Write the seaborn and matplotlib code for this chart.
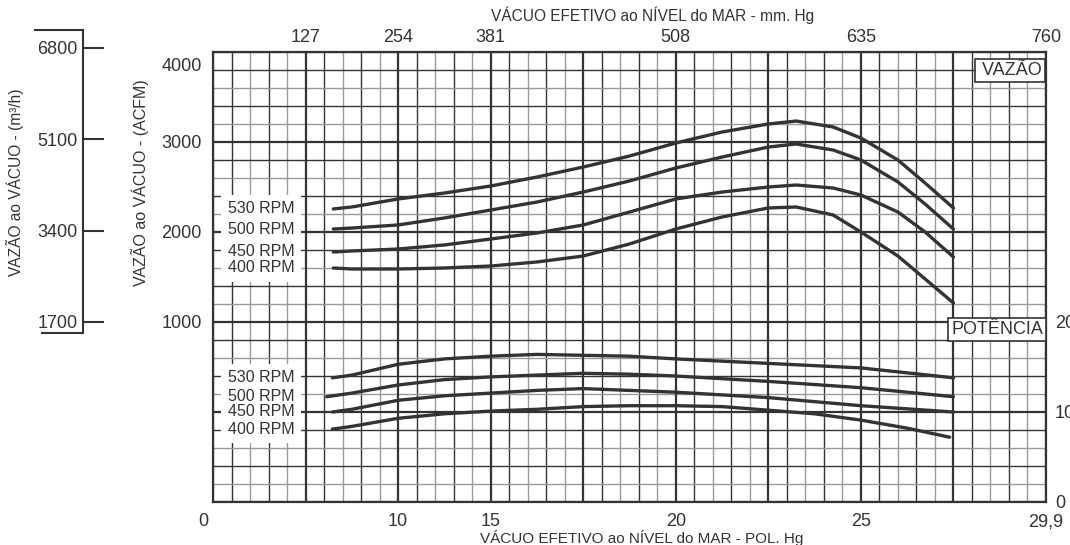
import numpy as np
import pandas as pd
import seaborn as sns
import matplotlib.pyplot as plt
from matplotlib.transforms import ScaledTranslation

# Printed vacuum scale of the chart (not linear): in Hg value -> grid station
scale_inhg = [0, 5, 10, 15, 20, 25, 29.9]
scale_pos = [0, 1, 2, 3, 5, 7, 9]

bottom_ticks = [0, 10, 15, 20, 25, 29.9]
bottom_labels = ["0", "10", "15", "20", "25", "29,9"]
top_ticks = [5, 10, 15, 20, 25, 29.9]
top_labels = ["127", "254", "381", "508", "635", "760"]

flow_ticks = [1000, 2000, 3000, 4000]
m3h_ticks = [1700, 3400, 5100, 6800]
power_ticks = [0, 10, 20]

rpms = ["530 RPM", "500 RPM", "450 RPM", "400 RPM"]

# Flow (ACFM) against vacuum (in Hg)
flow_x = [6.5, 7.5, 10, 12.5, 15, 16.25, 17.5, 18.75, 20, 21.25, 22.5,
          23.25, 24.25, 25, 25.98, 26.7, 27.45]
flow_530 = [2256, 2278, 2367, 2433, 2511, 2611, 2722, 2844, 2989, 3111, 3200,
            3233, 3167, 3044, 2800, 2544, 2267]
flow_500 = [2033, 2044, 2078, 2156, 2244, 2333, 2444, 2567, 2711, 2833, 2944,
            2978, 2911, 2800, 2556, 2311, 2033]
flow_450 = [1778, 1789, 1811, 1856, 1922, 1989, 2078, 2222, 2367, 2444, 2500,
            2522, 2489, 2411, 2222, 2000, 1722]
flow_400 = [1600, 1589, 1589, 1600, 1622, 1667, 1733, 1867, 2033, 2167, 2267,
            2278, 2189, 2000, 1733, 1478, 1211]

# Power against vacuum (in Hg)
power_x = [6.45, 7.5, 10, 12.5, 15, 16.25, 17.5, 18.75, 20, 22.5, 25, 27.45]
power_x_500 = [6.15] + power_x[1:]
power_530 = [13.8, 14.1, 15.3, 15.9, 16.2, 16.4, 16.3, 16.2, 15.9, 15.4, 14.9, 13.8]
power_500 = [11.7, 12.1, 13.0, 13.6, 13.9, 14.1, 14.3, 14.2, 14.0, 13.4, 12.7, 11.7]
power_450 = [10.0, 10.3, 11.3, 11.8, 12.1, 12.4, 12.6, 12.4, 12.2, 11.6, 10.7, 10.0]
power_x_400 = [6.45, 7.5, 10, 12.5, 15, 16.25, 17.5, 18.75, 20, 21.25, 22.5,
               23.75, 25, 26.23, 27.35]
power_400 = [8.1, 8.4, 9.3, 9.8, 10.1, 10.3, 10.6, 10.7, 10.7, 10.6, 10.2,
             9.8, 9.1, 8.2, 7.2]

flow = pd.concat([
    pd.DataFrame({"vacuo": flow_x, "vazao": f, "rpm": r})
    for f, r in zip([flow_530, flow_500, flow_450, flow_400], rpms)])
power = pd.concat([
    pd.DataFrame({"vacuo": x, "potencia": p, "rpm": r})
    for x, p, r in zip([power_x, power_x_500, power_x, power_x_400],
                       [power_530, power_500, power_450, power_400], rpms)])

sns.set_theme(style="white")
plt.rcParams["font.family"] = ["Liberation Sans", "DejaVu Sans"]
ink = "#333333"


def fwd(x):
    return np.interp(x, scale_inhg, scale_pos)


def inv(p):
    return np.interp(p, scale_pos, scale_inhg)


fig = plt.figure(figsize=(10.7, 5.45), dpi=100)
ax = fig.add_axes([213 / 1070, 43 / 545, 833 / 1070, 450 / 545])
ax.set_xscale("function", functions=(fwd, inv))
ax.set_xlim(0, 29.9)
ax.set_ylim(-1000, 4000)

# chart paper grid
for k in range(46):
    xv = inv(k / 5)
    if k % 5 == 0:
        ax.axvline(xv, color=ink, lw=1.6, zorder=0.6)
    else:
        c = ink if (k % 5) % 2 == 1 else "#999999"
        ax.axvline(xv, color=c, lw=1.0, zorder=0.5)
for j in range(26):
    yv = 4000 - 200 * j
    if j % 5 == 0:
        ax.axhline(yv, color=ink, lw=1.6, zorder=0.6)
    else:
        c = ink if (j % 5) % 2 == 1 else "#999999"
        ax.axhline(yv, color=c, lw=1.0, zorder=0.5)

sns.lineplot(data=flow, x="vacuo", y="vazao", units="rpm", estimator=None,
             sort=False, color=ink, lw=2.4, legend=False, ax=ax)

ax.set_xticks(bottom_ticks, bottom_labels)
ax.set_yticks(flow_ticks, [str(v) for v in flow_ticks])
ax.tick_params(axis="both", length=0, labelsize=13, labelcolor=ink)
ax.tick_params(axis="x", pad=8)
ax.tick_params(axis="y", pad=8)
ax.xaxis.set_minor_locator(plt.NullLocator())
for s in ax.spines.values():
    s.set_color(ink)
    s.set_linewidth(1.6)
ax.set_ylabel("")
ax.set_xlabel("VÁCUO EFETIVO ao NÍVEL do MAR - POL. Hg", fontsize=11, color=ink)
ax.xaxis.set_label_coords(0.515, -0.062)

lab = ax.get_xticklabels()[0]
lab.set_transform(lab.get_transform() + ScaledTranslation(-0.10, 0, fig.dpi_scale_trans))
lab = ax.get_yticklabels()[-1]
lab.set_transform(lab.get_transform() + ScaledTranslation(0, -0.13, fig.dpi_scale_trans))

# rpm labels for flow curves
starts = [flow_530[0], flow_500[0], flow_450[0], flow_400[0]]
for r, y0 in zip(rpms, starts):
    ax.text(2.6, y0, r, ha="center", va="center", fontsize=11.5, color="none",
            bbox=dict(boxstyle="square,pad=0.4", fc="white", ec="none"), zorder=3)
for r, y0 in zip(rpms, starts):
    ax.text(2.6, y0, r, ha="center", va="center", fontsize=11.5, color=ink, zorder=4)

ax.text(0.9952, 0.959, " VAZÃO", transform=ax.transAxes, ha="right", va="center",
        fontsize=13, color=ink, zorder=5,
        bbox=dict(boxstyle="square,pad=0.15", fc="white", ec=ink, lw=1.2))

# power curves on their own scale
ax_pow = ax.twinx()
ax_pow.set_ylim(0, 50)
sns.lineplot(data=power, x="vacuo", y="potencia", units="rpm", estimator=None,
             sort=False, color=ink, lw=2.4, legend=False, ax=ax_pow)
ax_pow.set_yticks(power_ticks, [str(v) for v in power_ticks])
ax_pow.tick_params(axis="y", length=0, labelsize=13, labelcolor=ink, pad=6.5)
ax_pow.set_ylabel("")
ax_pow.set_xlabel("")
for s in ax_pow.spines.values():
    s.set_visible(False)

pstarts = [power_530[0], power_500[0], power_450[0], power_400[0]]
for r, y0 in zip(rpms, pstarts):
    ax_pow.text(2.6, y0, r, ha="center", va="center", fontsize=11.5, color="none",
                bbox=dict(boxstyle="square,pad=0.4", fc="white", ec="none"), zorder=3)
for r, y0 in zip(rpms, pstarts):
    ax_pow.text(2.6, y0, r, ha="center", va="center", fontsize=11.5, color=ink, zorder=4)

ax_pow.text(0.9964, 0.3833, "POTÊNCIA", transform=ax.transAxes, ha="right",
            va="center", fontsize=13, color=ink, zorder=5,
            bbox=dict(boxstyle="square,pad=0.15", fc="white", ec=ink, lw=1.2))

# mm Hg scale on top
ax_top = ax.twiny()
ax_top.set_xscale("function", functions=(fwd, inv))
ax_top.set_xlim(0, 29.9)
ax_top.set_xticks(top_ticks, top_labels)
ax_top.xaxis.set_minor_locator(plt.NullLocator())
ax_top.tick_params(axis="x", length=0, labelsize=13, labelcolor=ink, pad=4.5)
ax_top.set_xlabel("VÁCUO EFETIVO ao NÍVEL do MAR - mm. Hg", fontsize=11.2, color=ink)
ax_top.xaxis.set_label_coords(0.528, 1.068)
for s in ax_top.spines.values():
    s.set_visible(False)

# separate m3/h scale on the far left
axm = fig.add_axes([35 / 1070, 212 / 545, 48 / 1070, 303 / 545])
axm.patch.set_alpha(0)
axm.set_xlim(0, 48)
axm.set_ylim(1495, 7135)
axm.set_xticks([])
axm.set_yticks(m3h_ticks, [str(v) for v in m3h_ticks])
axm.spines["left"].set_position(("axes", 1.0))
axm.spines["right"].set_visible(False)
axm.spines["bottom"].set_bounds(7, 48)
for s in axm.spines.values():
    s.set_color(ink)
    s.set_linewidth(1.5)
axm.tick_params(axis="y", left=True, direction="in", length=15, width=1.5,
                color=ink, labelsize=13, labelcolor=ink, pad=4)

fig.text(15 / 1070, 1 - 182 / 545, "VAZÃO ao VÁCUO - (m³/h)", rotation=90,
         ha="center", va="center", fontsize=11.2, color=ink)
fig.text(140 / 1070, 1 - 183 / 545, "VAZÃO ao VÁCUO - (ACFM)", rotation=90,
         ha="center", va="center", fontsize=11.5, color=ink)

fig.savefig("out.png", dpi=100)
